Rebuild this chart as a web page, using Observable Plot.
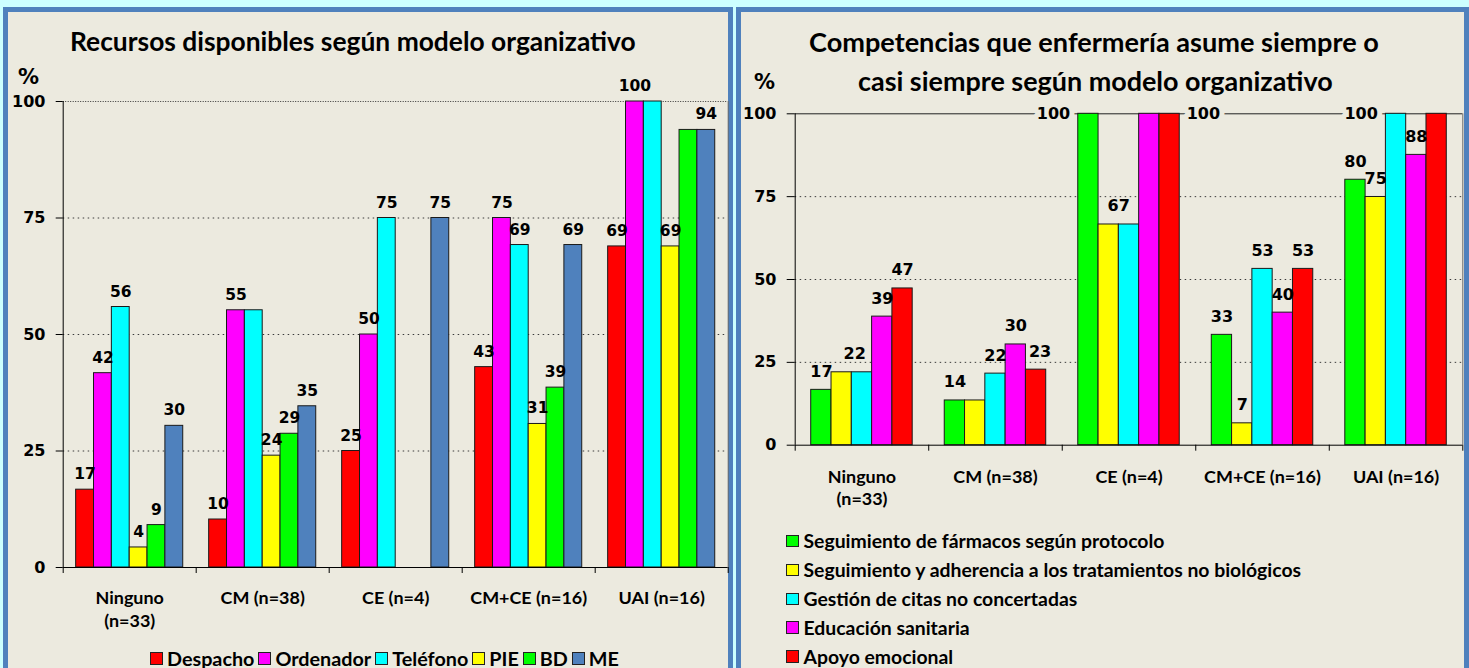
<!DOCTYPE html>
<html lang="es">
<head>
<meta charset="utf-8">
<script src="https://cdn.jsdelivr.net/npm/d3@7"></script>
<script src="https://cdn.jsdelivr.net/npm/@observablehq/plot@0.6"></script>
<style>
  html, body { margin:0; padding:0; }
  body { width:1469px; height:668px; overflow:hidden; background:#ccffff; position:relative; font-family: Lato, "Open Sans", sans-serif; }
  .panel { position:absolute; box-sizing:border-box; border:5px solid #4f81bd; background:#eceadf; }
  .abs { position:absolute; white-space:nowrap; color:#000; }
  .title { font-weight:700; font-size:22px; line-height:1; }
  .pct { font-family:"DejaVu Sans", sans-serif; font-weight:700; font-size:21px; line-height:1; }
  .legend { font-weight:700; font-size:17px; line-height:1; display:flex; align-items:center; }
  .sw { display:inline-block; width:13px; height:13px; box-sizing:border-box; border:1px solid #222; margin-right:4px; flex:none; }
  .item { display:flex; align-items:center; margin-right:4px; }
  .chart { position:absolute; }
</style>
</head>
<body>
<div class="panel" style="left:3px;top:7px;width:730px;height:680px"></div>
<div class="panel" style="left:736px;top:7px;width:733px;height:680px"></div>
<script>
// ---------------- data ----------------
const categories = ["Ninguno\n(n=33)", "CM (n=38)", "CE (n=4)", "CM+CE (n=16)", "UAI (n=16)"];
const yTicks = [0, 25, 50, 75, 100];
const yUnit = "%";

// Chart 1
const title1 = "Recursos disponibles según modelo organizativo";
const series1 = ["Despacho", "Ordenador", "Teléfono", "PIE", "BD", "ME"];
const colors1 = ["#ff0000", "#ff00ff", "#00ffff", "#ffff00", "#00ff00", "#4f81bd"];
const despacho  = [16.7, 10.3, 25.0, 43.0, 68.9];
const ordenador = [41.7, 55.2, 50.0, 75.0, 100];
const telefono  = [55.9, 55.2, 75.0, 69.2, 100];
const pie       = [4.3, 24.0, 0, 30.8, 68.9];
const bd        = [9.1, 28.7, 0, 38.6, 93.9];
const me        = [30.4, 34.6, 75.0, 69.2, 93.9];
const values1 = [despacho, ordenador, telefono, pie, bd, me];

// Chart 2
const title2 = ["Competencias que enfermería asume siempre o", "casi siempre según modelo organizativo"];
const series2 = ["Seguimiento de fármacos según protocolo",
                 "Seguimiento y adherencia a los tratamientos no biológicos",
                 "Gestión de citas no concertadas",
                 "Educación sanitaria",
                 "Apoyo emocional"];
const colors2 = ["#00ff00", "#ffff00", "#00ffff", "#ff00ff", "#ff0000"];
const farmacos   = [16.7, 13.5, 100, 33.3, 80.1];
const adherencia = [22.0, 13.5, 66.6, 6.6, 74.9];
const citas      = [22.0, 21.6, 66.6, 53.2, 100];
const educacion  = [38.8, 30.4, 100, 40.0, 87.6];
const apoyo      = [47.3, 22.8, 100, 53.2, 100];
const values2 = [farmacos, adherencia, citas, educacion, apoyo];

// ---------------- label layout (styling, not data) ----------------
const labels1 = { hide: ["1|2", "4|2", "4|4"] };
const labels2 = { hide: ["0|2", "1|1", "2|2", "2|3", "4|4"],
                  shift: { "0|1": 13, "2|1": 10, "1|4": 4 },
                  left: ["2|0", "4|2"], right: ["2|4"] };

const BG = "#eceadf";
const NUM_FONT = "DejaVu Sans, Verdana, sans-serif";

const cv = document.createElement("canvas").getContext("2d");
function fitSize(text, font, weight, target) {
  cv.font = `${weight} 20px ${font}`;
  return 20 * target / cv.measureText(text).width;
}

function addDiv(text, cls, left, top) {
  const d = document.createElement("div");
  d.className = "abs " + cls;
  d.textContent = text;
  d.style.left = left + "px";
  d.style.top = top + "px";
  document.body.appendChild(d);
  return d;
}
function fitDiv(d, target) {
  const w = d.getBoundingClientRect().width;
  const fs = parseFloat(getComputedStyle(d).fontSize);
  d.style.fontSize = (fs * target / w) + "px";
}

function drawChart(cfg) {
  const n = cfg.series.length;
  const step = cfg.group / n, pad = (1 - cfg.group) / 2;
  const rows = [];
  categories.forEach((c, i) => cfg.series.forEach((s, j) => {
    const x1 = i + pad + j * step;
    rows.push({i, j, s, v: cfg.values[j][i], x1, x2: x1 + step, xc: x1 + step / 2, key: i + "|" + j});
  }));
  const L = cfg.labels;
  const left = L.left || [], right = L.right || [], shift = L.shift || {};
  const labeled = rows.filter(r => r.v > 0 && !L.hide.includes(r.key));
  const above = labeled.filter(r => !left.includes(r.key) && !right.includes(r.key));
  const plain = above.filter(r => !(r.key in shift));
  const shifted = above.filter(r => r.key in shift);
  const lefts = labeled.filter(r => left.includes(r.key));
  const rights = labeled.filter(r => right.includes(r.key));
  const fmt = r => String(Math.round(r.v));
  const vt = {fontFamily: NUM_FONT, fontSize: cfg.valueSize, text: fmt, fill: "#000", fontWeight: "bold"};
  const catSize = fitSize("CM+CE (n=16)", "Lato", "bold", cfg.catWidth);

  const svg = Plot.plot({
    width: cfg.width, height: cfg.height,
    marginLeft: cfg.mL, marginRight: cfg.mR, marginTop: cfg.mT, marginBottom: cfg.mB,
    x: {domain: [0, 5]},
    y: {domain: [0, 100]},
    color: {domain: cfg.series, range: cfg.colors},
    style: {background: "transparent", fontFamily: NUM_FONT, fontWeight: "bold",
            fontSize: cfg.tickFont + "px", color: "#000", overflow: "visible", maxWidth: "none"},
    marks: [
      Plot.ruleY([25, 50, 75], {stroke: "#3a3a3a", strokeWidth: 1, strokeDasharray: "1.5,3.5"}),
      Plot.ruleY([100], cfg.topLine),
      Plot.rect(rows, {x1: "x1", x2: "x2", y1: 0, y2: "v", fill: "s", stroke: "#1a1a1a", strokeWidth: 1}),
      Plot.ruleX([5], {stroke: "#6a6a6a"}),
      Plot.ruleX([0], {stroke: "#000"}),
      Plot.ruleY([0], {stroke: "#000"}),
      Plot.axisY({ticks: yTicks, tickSize: cfg.yTickSize, tickPadding: cfg.tickPad, label: null,
                  tickFormat: d => String(d), fontSize: cfg.tickFont, fontFamily: NUM_FONT, fontWeight: "bold"}),
      Plot.axisX({ticks: [0, 1, 2, 3, 4, 5], tickSize: 6, tickFormat: () => "", label: null}),
      Plot.text(categories, {x: (d, i) => i + 0.5, frameAnchor: "bottom", text: d => d, lineAnchor: "top",
                             dy: cfg.catDy, lineHeight: cfg.catGap / catSize, fontFamily: "Lato, sans-serif", fontSize: catSize}),
      Plot.text(plain, {x: "xc", y: "v", ...vt, lineAnchor: "bottom", dy: -cfg.labelGap}),
      ...shifted.map(r => Plot.text([r], {x: "xc", y: "v", ...vt, lineAnchor: "bottom", dy: -cfg.labelGap, dx: shift[r.key]})),
      Plot.text(lefts, {x: "x1", y: "v", ...vt, textAnchor: "end", lineAnchor: "middle", dx: -8, stroke: BG, strokeWidth: 10}),
      Plot.text(rights, {x: "x2", y: "v", ...vt, textAnchor: "start", lineAnchor: "middle", dx: 7, stroke: BG, strokeWidth: 10})
    ]
  });
  const holder = document.createElement("div");
  holder.className = "chart";
  holder.style.left = cfg.left + "px";
  holder.style.top = cfg.top + "px";
  holder.style.width = cfg.width + "px";
  holder.style.height = cfg.height + "px";
  holder.appendChild(svg);
  document.body.appendChild(holder);
}

// ---------------- chart 1 ----------------
drawChart({
  series: series1, colors: colors1, values: values1, labels: labels1,
  group: 0.805, left: 0, top: 60, width: 733, height: 580,
  mL: 62.7, mR: 5.3, mT: 41, mB: 73,
  tickFont: 16, yTickSize: 7, tickPad: 10.7,
  valueSize: 15.5, labelGap: 10.5,
  catWidth: 117, catDy: 20, catGap: 23,
  topLine: {stroke: "#333", strokeDasharray: "1,1.5"}
});
const t1 = addDiv(title1, "title", 70, 27.5); fitDiv(t1, 566);
addDiv(yUnit, "pct", 18, 66.5);

// legend 1
const lg1 = document.createElement("div");
lg1.className = "abs legend";
lg1.style.left = "150px";
series1.forEach((s, j) => {
  const it = document.createElement("div"); it.className = "item";
  const sw = document.createElement("span"); sw.className = "sw"; sw.style.background = colors1[j];
  const tx = document.createElement("span"); tx.textContent = s;
  it.appendChild(sw); it.appendChild(tx); lg1.appendChild(it);
});
document.body.appendChild(lg1);
{
  const fixed = series1.length * 17 + (series1.length - 1) * 4;
  const w = lg1.getBoundingClientRect().width - 4;
  const fs = 17 * (469 - fixed) / (w - fixed);
  lg1.style.fontSize = fs + "px";
  lg1.style.top = (658.5 - lg1.getBoundingClientRect().height / 2) + "px";
}

// ---------------- chart 2 ----------------
drawChart({
  series: series2, colors: colors2, values: values2, labels: labels2,
  group: 0.76, left: 734, top: 90, width: 735, height: 430,
  mL: 60.7, mR: 6.7, mT: 23.3, mB: 75.3,
  tickFont: 16, yTickSize: 8, tickPad: 10.7,
  valueSize: 16, labelGap: 13,
  catWidth: 117, catDy: 22, catGap: 22,
  topLine: {stroke: "#222", strokeWidth: 1}
});
const t2a = addDiv(title2[0], "title", 809, 28); fitDiv(t2a, 570);
const t2b = addDiv(title2[1], "title", 858, 68); fitDiv(t2b, 475);
addDiv(yUnit, "pct", 754, 72);

// legend 2
const rowsY = [541, 570, 599, 627.5, 656.5];
const items2 = series2.map((s, j) => {
  const it = document.createElement("div"); it.className = "abs legend";
  it.style.left = "786px";
  const sw = document.createElement("span"); sw.className = "sw"; sw.style.background = colors2[j];
  sw.style.width = "12.5px"; sw.style.height = "12.5px"; sw.style.marginRight = "5px";
  const tx = document.createElement("span"); tx.textContent = s;
  it.appendChild(sw); it.appendChild(tx);
  document.body.appendChild(it);
  return {it, tx};
});
{
  const w = items2[1].tx.getBoundingClientRect().width;
  const fs = 17 * 498 / w;
  items2.forEach(({it}, j) => {
    it.style.fontSize = fs + "px";
    it.style.top = (rowsY[j] - it.getBoundingClientRect().height / 2) + "px";
  });
}
</script>
</body>
</html>
